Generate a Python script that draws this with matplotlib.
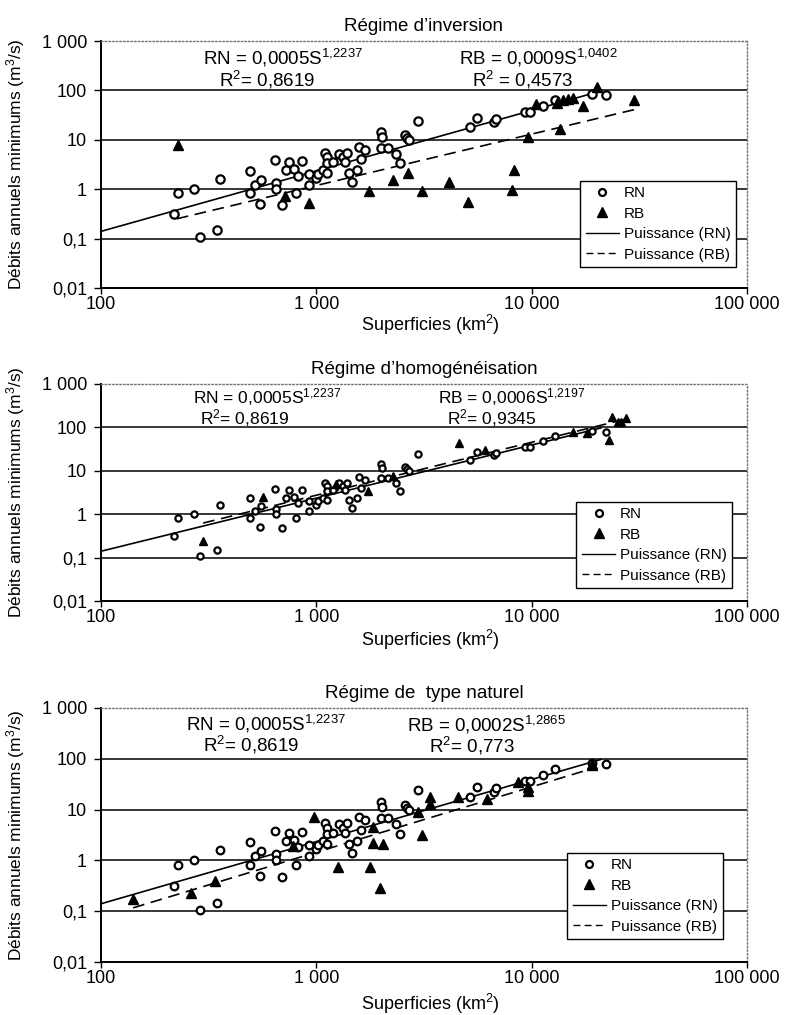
import numpy as np
import matplotlib
matplotlib.use('Agg')
import matplotlib.pyplot as plt
from matplotlib.lines import Line2D
from matplotlib.ticker import FixedLocator, FixedFormatter, NullLocator

plt.rcParams['font.family'] = ['Liberation Sans', 'DejaVu Sans']
plt.rcParams['mathtext.fontset'] = 'custom'
plt.rcParams['mathtext.rm'] = 'Liberation Sans'
plt.rcParams['mathtext.it'] = 'Liberation Sans'

# superficie (km2) / debit (m3/s) -- RN identique dans les trois graphiques
rn_x = [218, 228, 270, 288, 346, 357, 492, 492, 519, 548, 553, 643, 650, 650, 693,
        723, 747, 788, 805, 822, 858, 925, 925, 997, 1018, 1074, 1097, 1122, 1122,
        1122, 1196, 1274, 1331, 1359, 1389, 1419, 1465, 1545, 1579, 1614, 1683,
        1996, 2018, 1996, 2153, 2346, 2448, 2582, 2637, 2697, 2967, 5172, 5572,
        6687, 6837, 9314, 9840, 11300, 12850, 19090, 22170]
rn_y = [0.31, 0.83, 1.0, 0.107, 0.148, 1.59, 2.31, 0.83, 1.2, 0.50, 1.52, 3.86, 1.32,
        1.0, 0.47, 2.42, 3.52, 2.54, 0.83, 1.83, 3.69, 1.2, 2.01, 1.67, 2.01, 2.42,
        5.35, 4.44, 2.11, 3.36, 3.52, 5.11, 4.44, 3.52, 5.35, 2.11, 1.39, 2.42, 7.08,
        4.05, 6.16, 14.3, 11.3, 6.76, 6.76, 5.11, 3.36, 12.4, 10.8, 9.8, 23.8, 18.0,
        27.4, 22.7, 26.1, 36.2, 36.2, 47.9, 63.3, 83.8, 80.0]

# RB, regime d'inversion
rb1_x = [228, 716, 925, 1758, 2271, 2667, 3097, 4132, 5066, 8110, 8280, 9620, 10480,
         13130, 13550, 13950, 14700, 15600, 17330, 20130, 29900]
rb1_y = [7.8, 0.72, 0.52, 0.91, 1.52, 2.11, 0.91, 1.39, 0.55, 0.95, 2.43, 11.3, 52.6,
         54.7, 16.4, 63, 66, 69, 47.9, 116, 63.4]

# RB, regime d'homogeneisation
rb2_x = [298, 565, 1234, 1738, 2271, 4600, 6080, 15560, 18080, 22900, 23620, 25200,
         26100, 27450]
rb2_y = [0.24, 2.46, 4.9, 3.39, 7.5, 43.2, 29.8, 77.5, 73.5, 50.7, 172, 132, 130, 163]

# RB, regime de type naturel
rb3_x = [141, 262, 338, 780, 975, 1261, 1776, 1834, 1834, 2041, 1977, 2967, 3097,
         3375, 3375, 4550, 6210, 8650, 9620, 9620, 19090, 19090]
rb3_y = [0.17, 0.23, 0.40, 1.89, 7.0, 0.73, 0.73, 4.46, 2.16, 2.07, 0.28, 8.8, 3.1,
         17.4, 12.7, 17.4, 15.9, 34.3, 22.8, 27.4, 74.1, 80]

# courbes de tendance (puissance) : a, b, etendue en S
rn_fit = (0.0005, 1.2237)
rb_fits = [(0.0009, 1.0402), (0.0006, 1.2197), (0.0002, 1.2865)]
rn_span = (100, 21000)
rb_spans = [(225, 30000), (298, 27450), (141, 19090)]

titles = ["Régime d\u2019inversion", "Régime d\u2019homogénéisation", "Régime de  type naturel"]
rn_labels = [("RN = 0,0005S$^{1{,}2237}$", "R$^2$= 0,8619")] * 3
rb_labels = [("RB = 0,0009S$^{1{,}0402}$", "R$^2$ = 0,4573"),
             ("RB = 0,0006S$^{1{,}2197}$", "R$^2$= 0,9345"),
             ("RB = 0,0002S$^{1{,}2865}$", "R$^2$= 0,773")]

y_ticks = [0.01, 0.1, 1, 10, 100, 1000]
y_ticklabels = ['0,01', '0,1', '1', '10', '100', '1 000']
x_ticks = [100, 1000, 10000, 100000]
x_ticklabels = ['100', '1 000', '10 000', '100 000']

W, H = 798, 1015
# position des axes en pixels : gauche, haut, droite, bas
boxes = [(101, 41, 747, 288), (101, 384, 747, 601), (101, 708, 747, 962)]
xlabel_gap = [25, 27, 30]
# position des textes (fraction d'axe) : x ligne1, x ligne2, y ligne1, y ligne2
rn_pos = [(0.282, 0.257, 0.931, 0.842), (0.258, 0.223, 0.940, 0.843), (0.255, 0.232, 0.937, 0.854)]
rb_pos = [(0.677, 0.652, 0.931, 0.842), (0.636, 0.605, 0.940, 0.843), (0.596, 0.574, 0.933, 0.850)]
eq_size = [13.5, 12.5, 13.5]
legend_anchor = [(0.983, 0.085), (0.977, 0.060), (0.963, 0.091)]
msize = [6.0, 4.5, 5.5]

fig = plt.figure(figsize=(W / 100, H / 100), dpi=100)

rb_data = [(rb1_x, rb1_y), (rb2_x, rb2_y), (rb3_x, rb3_y)]

for i in range(3):
    l, t, r, b = boxes[i]
    ax = fig.add_axes([l / W, 1 - b / H, (r - l) / W, (b - t) / H])
    ax.set_xscale('log')
    ax.set_yscale('log')
    ax.set_xlim(100, 100000)
    ax.set_ylim(0.01, 1000)

    # lignes horizontales
    for v in y_ticks[1:-1]:
        ax.axhline(v, color='black', lw=1.1, zorder=1)

    # tendances
    a, p = rn_fit
    s = np.logspace(np.log10(rn_span[0]), np.log10(rn_span[1]), 50)
    ax.plot(s, a * s ** p, color='black', lw=1.2, zorder=2)
    a, p = rb_fits[i]
    s = np.logspace(np.log10(rb_spans[i][0]), np.log10(rb_spans[i][1]), 50)
    ax.plot(s, a * s ** p, color='black', lw=1.2, ls=(0, (7, 4)), zorder=2)

    # points
    ax.plot(rn_x, rn_y, 'o', ms=msize[i], mfc='white', mec='black', mew=1.6, zorder=3)
    ax.plot(rb_data[i][0], rb_data[i][1], '^', ms=msize[i] + 1.5, mfc='black',
            mec='black', zorder=4)

    # axes
    ax.yaxis.set_major_locator(FixedLocator(y_ticks))
    ax.yaxis.set_major_formatter(FixedFormatter(y_ticklabels))
    ax.yaxis.set_minor_locator(NullLocator())
    ax.xaxis.set_major_locator(FixedLocator(x_ticks))
    ax.xaxis.set_major_formatter(FixedFormatter(x_ticklabels))
    ax.xaxis.set_minor_locator(NullLocator())
    ax.tick_params(axis='both', direction='out', length=5, width=1.0, labelsize=13)
    ax.tick_params(axis='x', length=4, pad=2)
    ax.tick_params(axis='y', pad=5)
    for side in ['left', 'bottom']:
        ax.spines[side].set_linewidth(1.4)
    for side in ['top', 'right']:
        ax.spines[side].set_linestyle(':')
        ax.spines[side].set_color('0.45')
        ax.spines[side].set_linewidth(1.0)

    ax.set_title(titles[i], fontsize=13.5, pad=7)
    ax.set_xlabel('Superficies (km$^2$)', fontsize=13)
    ax.xaxis.set_label_coords(0.509, -xlabel_gap[i] / (b - t))
    ax.set_ylabel('Débits annuels minimums (m$^3$/s)', fontsize=12.5)
    ax.yaxis.set_label_coords(-74 / (r - l), 0.5)

    # equations
    x1, x2, y1, y2 = rn_pos[i]
    ax.text(x1, y1, rn_labels[i][0], transform=ax.transAxes, ha='center', va='center', fontsize=eq_size[i])
    ax.text(x2, y2, rn_labels[i][1], transform=ax.transAxes, ha='center', va='center', fontsize=eq_size[i])
    x1, x2, y1, y2 = rb_pos[i]
    ax.text(x1, y1, rb_labels[i][0], transform=ax.transAxes, ha='center', va='center', fontsize=eq_size[i])
    ax.text(x2, y2, rb_labels[i][1], transform=ax.transAxes, ha='center', va='center', fontsize=eq_size[i])

    handles = [
        Line2D([], [], ls='none', marker='o', ms=5, mfc='white', mec='black', mew=1.6),
        Line2D([], [], ls='none', marker='^', ms=6.5, mfc='black', mec='black'),
        Line2D([], [], color='black', lw=1.0),
        Line2D([], [], color='black', lw=1.0, ls=(0, (5, 3))),
    ]
    leg = ax.legend(handles, ['RN', 'RB', 'Puissance (RN)', 'Puissance (RB)'],
                    loc='lower right', bbox_to_anchor=legend_anchor[i], fontsize=11,
                    frameon=True, fancybox=False, framealpha=1, edgecolor='black',
                    handlelength=2.2, handletextpad=0.3, labelspacing=0.42,
                    borderpad=0.35, borderaxespad=0)
    leg.get_frame().set_linewidth(1.0)
    leg.set_zorder(5)

fig.savefig('out.png', dpi=100)
